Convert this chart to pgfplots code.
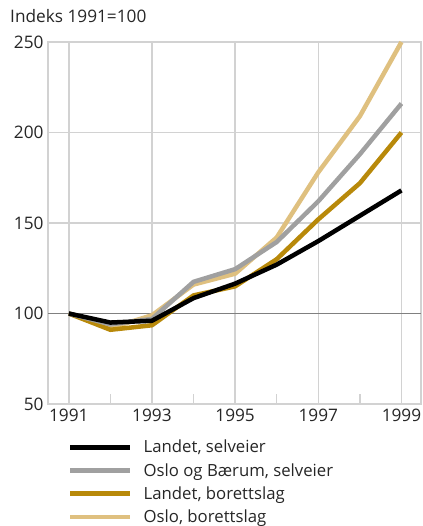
\documentclass[border=0pt]{standalone}
\usepackage{pgfplots}
\pgfplotsset{compat=1.18}
\usepackage{fontspec}
\setmainfont{Open Sans}
\definecolor{gridc}{HTML}{D2D2D2}
\definecolor{hundred}{HTML}{808080}
\definecolor{cblack}{HTML}{000000}
\definecolor{cgray}{HTML}{A0A0A0}
\definecolor{cdgold}{HTML}{B8890A}
\definecolor{clgold}{HTML}{DFC07F}
\begin{document}
\begin{tikzpicture}
\path[use as bounding box] (-48bp,-122bp) rectangle (375bp,404bp);
\begin{axis}[
  scale only axis,
  width=373bp, height=362bp,
  xmin=1990.5, xmax=1999.47,
  ymin=50, ymax=250,
  axis line style={gridc, line width=1.5bp},
  xtick={1991,1993,1995,1997,1999},
  minor xtick={1992,1994,1996,1998},
  ytick={50,100,150,200,250},
  xticklabel style={/pgf/number format/1000 sep={}},
  /pgf/number format/assume math mode=true,
  tick label style={font=\fontsize{17.3}{19}\selectfont, text=black!85},
  xmajorgrids, ymajorgrids,
  grid style={gridc, line width=1.5bp},
  major tick length=0pt,
  minor tick length=10bp,
  minor tick style={gridc, line width=1.5bp},
  tick align=inside,
  xtick pos=bottom, ytick pos=left,
  yticklabel style={xshift=-1bp},
  xticklabel style={yshift=-1bp},
  reverse legend,
  legend cell align=left,
  legend style={draw=none, fill=none, at={(17bp,-32bp)}, anchor=north west,
    font=\fontsize{16.8}{18.5}\selectfont, row sep=5bp,
    nodes={inner sep=2bp, text=black!85},
    /tikz/every odd column/.append style={column sep=9bp}},
  legend image code/.code={\draw[#1, line width=4.5bp] (0bp,0bp) -- (60bp,0bp);},
  clip=false,
]
\draw[hundred, line width=1.5bp] (axis cs:1990.5,100) -- (axis cs:1999.47,100);
\addplot[clgold, line width=4.5bp, line join=round] coordinates {(1991,100) (1992,92) (1993,99) (1994,116) (1995,122) (1996,142) (1997,178) (1998,209) (1999,250)};
\addlegendentry{Oslo, borettslag}
\addplot[cdgold, line width=4.5bp, line join=round] coordinates {(1991,100) (1992,91) (1993,93.5) (1994,110) (1995,115) (1996,130) (1997,152) (1998,172) (1999,200)};
\addlegendentry{Landet, borettslag}
\addplot[cgray, line width=4.5bp, line join=round] coordinates {(1991,100) (1992,94) (1993,97) (1994,117.5) (1995,124.5) (1996,139.5) (1997,162) (1998,188) (1999,216)};
\addlegendentry{Oslo og Bærum, selveier}
\addplot[cblack, line width=4.5bp, line join=round] coordinates {(1991,100) (1992,95) (1993,96) (1994,108.5) (1995,116.5) (1996,127) (1997,140) (1998,154) (1999,168)};
\addlegendentry{Landet, selveier}
\node[anchor=base west, font=\fontsize{17.3}{19}\selectfont, text=black!85, inner sep=0pt] at (rel axis cs:0,1) [xshift=-38bp, yshift=19bp] {Indeks 1991=100};
\end{axis}
\end{tikzpicture}
\end{document}
